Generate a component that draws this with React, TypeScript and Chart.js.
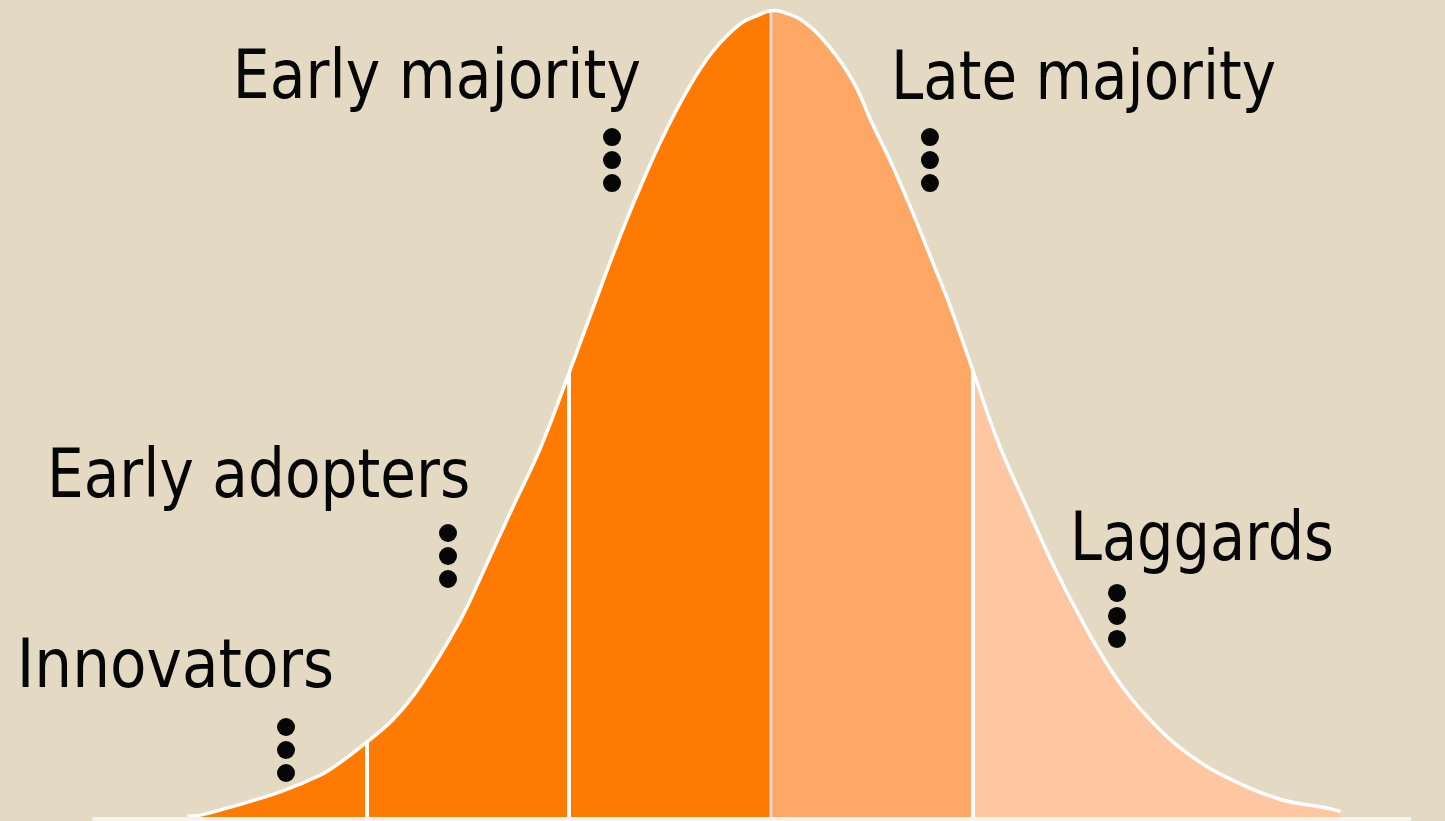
import React, { useEffect, useRef } from 'react';
import { Chart, registerables } from 'chart.js';

Chart.register(...registerables);

// Bell curve: x in standard deviations from the mean, y = relative share (peak ≈ 100)
const curveX = [-2.89, -2.83, -2.68, -2.43, -2.23, -2.13, -2.0, -1.87, -1.74, -1.54, -1.41, -1.28, -1.14, -1.0, -0.87, -0.78, -0.68, -0.55, -0.42, -0.29, -0.15, -0.05, 0, 0.05, 0.16, 0.29, 0.41, 0.5, 0.6, 0.69, 0.79, 0.89, 1.0, 1.13, 1.27, 1.4, 1.56, 1.71, 1.86, 2.06, 2.29, 2.52, 2.75, 2.82];
const curveY = [0.1, 0.2, 1.2, 3.1, 5.2, 6.8, 9.3, 12.1, 16.1, 24.3, 31.2, 38.3, 45.8, 55.0, 63.8, 69.8, 76.1, 83.5, 89.8, 94.8, 98.3, 99.5, 99.9, 99.8, 98.6, 95.4, 91.0, 86.0, 80.8, 75.6, 69.4, 63.1, 55.3, 46.1, 38.2, 31.1, 23.4, 17.2, 12.5, 7.9, 4.5, 2.2, 1.1, 0.7];

const segmentNames = ['Innovators', 'Early adopters', 'Early majority', 'Late majority', 'Laggards'];
const segmentBreaks = [-2, -1, 0, 1];

// Styles / layout (kept apart from the data)
const BG = '#E4DAC4';
const segmentColors = ['#FF7A00', '#FF7A00', '#FF7A00', '#FFA866', '#FFC6A2'];
const separatorColors = ['#FFFFFF', '#FFFFFF', '#DDD8D2', '#FFFFFF'];
const X_MIN = -3.817;
const X_MAX = 3.337;
const Y_MIN = -0.5;
const Y_MAX = 101.24;
const BASE_FROM = -3.36;
const BASE_TO = 3.17;
const TENSION = 0.4;

// label layout in chart coordinates: text left edge / baseline, ink width in px, top dot centre
const labelLayout = [
  { name: 'Innovators', x: -3.708, y: 16.11, width: 310, dotX: -2.401, dotY: 11.15 },
  { name: 'Early adopters', x: -3.559, y: 39.65, width: 416, dotX: -1.599, dotY: 35.19 },
  { name: 'Early majority', x: -2.639, y: 89.1, width: 402, dotX: -0.787, dotY: 84.26 },
  { name: 'Late majority', x: 0.619, y: 88.97, width: 379, dotX: 0.787, dotY: 84.26 },
  { name: 'Laggards', x: 1.505, y: 31.85, width: 257, dotX: 1.713, dotY: 27.76 },
];

const labelPlugin = {
  id: 'adopterLabels',
  afterDatasetsDraw(chart: any) {
    const { ctx } = chart;
    const xs = chart.scales.x;
    const ys = chart.scales.y;
    ctx.save();
    ctx.fillStyle = '#060606';
    ctx.font = '68px "DejaVu Sans", sans-serif';
    ctx.textBaseline = 'alphabetic';
    ctx.textAlign = 'left';
    labelLayout.forEach((l) => {
      const m = ctx.measureText(l.name);
      const ink = m.actualBoundingBoxLeft + m.actualBoundingBoxRight;
      const sx = l.width / ink;
      const px = xs.getPixelForValue(l.x);
      const py = ys.getPixelForValue(l.y);
      ctx.save();
      ctx.translate(px + m.actualBoundingBoxLeft * sx, py);
      ctx.scale(sx, 1);
      ctx.fillText(l.name, 0, 0);
      ctx.restore();
      const dx = xs.getPixelForValue(l.dotX);
      const dy = ys.getPixelForValue(l.dotY);
      for (let k = 0; k < 3; k++) {
        ctx.beginPath();
        ctx.arc(dx, dy + k * 23, 9, 0, Math.PI * 2);
        ctx.fill();
      }
    });
    ctx.restore();
  },
};

function pointsBetween(lo: number, hi: number) {
  const pts: { x: number; y: number }[] = [];
  curveX.forEach((x, i) => {
    if (x >= lo && x <= hi) pts.push({ x, y: curveY[i] });
  });
  return pts;
}

export default function App() {
  const ref = useRef<HTMLCanvasElement | null>(null);

  useEffect(() => {
    if (!ref.current) return;
    const bounds = [-Infinity, ...segmentBreaks, Infinity];
    const fills = segmentNames.map((name, i) => ({
      label: name,
      data: pointsBetween(bounds[i], bounds[i + 1]),
      backgroundColor: segmentColors[i],
      borderWidth: 0,
      borderColor: 'rgba(0,0,0,0)',
      fill: 'origin',
      tension: TENSION,
      pointRadius: 0,
      order: 10,
    }));
    const separators = segmentBreaks.map((b, i) => {
      const idx = curveX.indexOf(b);
      return {
        label: 'sep' + i,
        data: [
          { x: b, y: 0 },
          { x: b, y: curveY[idx] },
        ],
        borderColor: separatorColors[i],
        borderWidth: i === 2 ? 3 : 4,
        fill: false,
        pointRadius: 0,
        tension: 0,
        order: 2,
      };
    });
    const outline = {
      label: 'outline',
      data: curveX.map((x, i) => ({ x, y: curveY[i] })),
      borderColor: '#FFFFFF',
      borderWidth: 3.5,
      fill: false,
      tension: TENSION,
      pointRadius: 0,
      order: 1,
    };
    const baseline = {
      label: 'baseline',
      data: [
        { x: BASE_FROM, y: -0.25 },
        { x: BASE_TO, y: -0.25 },
      ],
      borderColor: '#F7F3EE',
      borderWidth: 4,
      fill: false,
      pointRadius: 0,
      order: 0,
    };

    const chart = new Chart(ref.current, {
      type: 'line',
      data: { datasets: [outline, baseline, ...separators, ...fills] as any },
      options: {
        animation: false,
        responsive: true,
        maintainAspectRatio: false,
        layout: { padding: 0 },
        events: [],
        scales: {
          x: { type: 'linear', min: X_MIN, max: X_MAX, display: false },
          y: { type: 'linear', min: Y_MIN, max: Y_MAX, display: false },
        },
        plugins: {
          legend: { display: false },
          tooltip: { enabled: false },
        },
      },
      plugins: [labelPlugin],
    });
    return () => chart.destroy();
  }, []);

  return (
    <div style={{ position: 'fixed', left: 0, top: 0, width: '100vw', height: '100vh', background: BG }}>
      <canvas ref={ref} />
    </div>
  );
}
